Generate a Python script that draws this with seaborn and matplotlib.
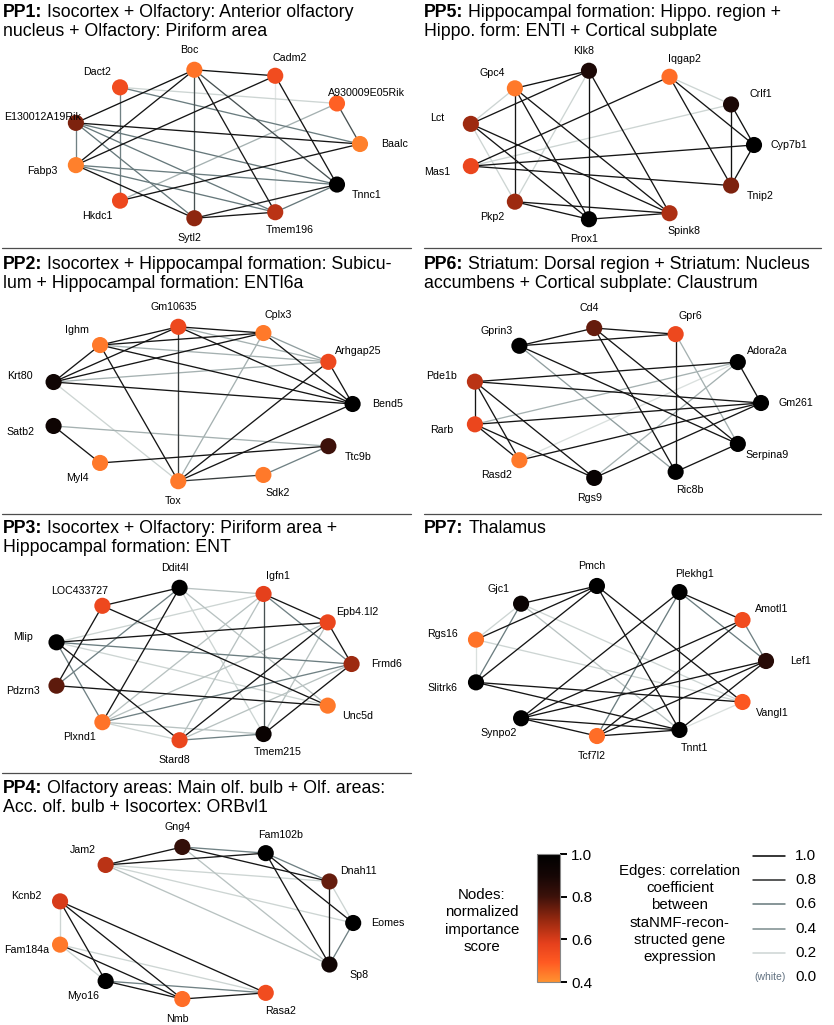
import numpy as np
import pandas as pd
import matplotlib
matplotlib.use("Agg")
import matplotlib.pyplot as plt
import seaborn as sns
from matplotlib.colors import LinearSegmentedColormap, Normalize
from matplotlib.cm import ScalarMappable

# ---------------- data ----------------
# genes listed counter-clockwise, starting from the rightmost node
PP1_GENES = ["Baalc", "A930009E05Rik", "Cadm2", "Boc", "Dact2", "E130012A19Rik",
             "Fabp3", "Hkdc1", "Sytl2", "Tmem196", "Tnnc1"]
PP1_IMPORTANCE = [0.43, 0.48, 0.54, 0.45, 0.54, 0.72, 0.43, 0.55, 0.70, 0.64, 1.0]
PP1_EDGES = [("Boc", "Cadm2", 0.92), ("Boc", "E130012A19Rik", 0.92), ("Boc", "Fabp3", 0.9),
             ("Cadm2", "Fabp3", 0.9), ("Boc", "Sytl2", 0.7), ("Boc", "Tmem196", 0.88),
             ("Boc", "Tnnc1", 0.7), ("Cadm2", "Tnnc1", 0.9), ("Cadm2", "Tmem196", 0.12),
             ("Dact2", "Hkdc1", 0.5), ("Dact2", "A930009E05Rik", 0.2), ("Dact2", "Baalc", 0.55),
             ("A930009E05Rik", "Baalc", 0.7), ("A930009E05Rik", "Hkdc1", 0.3),
             ("Baalc", "Hkdc1", 0.9), ("E130012A19Rik", "Baalc", 0.9),
             ("E130012A19Rik", "Fabp3", 0.5), ("E130012A19Rik", "Tnnc1", 0.6),
             ("E130012A19Rik", "Tmem196", 0.6), ("E130012A19Rik", "Sytl2", 0.6),
             ("Fabp3", "Tnnc1", 0.55), ("Fabp3", "Tmem196", 0.6), ("Fabp3", "Sytl2", 0.9),
             ("Sytl2", "Tnnc1", 0.85), ("Sytl2", "Tmem196", 0.9), ("Tmem196", "Tnnc1", 0.6)]

PP2_GENES = ["Bend5", "Arhgap25", "Cplx3", "Gm10635", "Ighm", "Krt80",
             "Satb2", "Myl4", "Tox", "Sdk2", "Ttc9b"]
PP2_IMPORTANCE = [1.0, 0.55, 0.44, 0.55, 0.44, 0.92, 0.93, 0.44, 0.44, 0.44, 0.80]
PP2_EDGES = [("Ighm", "Gm10635", 0.9), ("Ighm", "Cplx3", 0.9), ("Ighm", "Arhgap25", 0.3),
             ("Ighm", "Bend5", 0.9), ("Ighm", "Krt80", 0.9), ("Ighm", "Tox", 0.9),
             ("Krt80", "Gm10635", 0.9), ("Krt80", "Cplx3", 0.9), ("Krt80", "Arhgap25", 0.3),
             ("Krt80", "Bend5", 0.9), ("Krt80", "Tox", 0.2), ("Gm10635", "Cplx3", 0.9),
             ("Gm10635", "Arhgap25", 0.3), ("Gm10635", "Bend5", 0.9), ("Gm10635", "Tox", 0.75),
             ("Cplx3", "Arhgap25", 0.35), ("Cplx3", "Bend5", 0.9), ("Cplx3", "Tox", 0.3),
             ("Arhgap25", "Bend5", 0.9), ("Arhgap25", "Tox", 0.9), ("Bend5", "Tox", 0.9),
             ("Satb2", "Myl4", 0.9), ("Satb2", "Ttc9b", 0.3), ("Myl4", "Ttc9b", 0.9),
             ("Tox", "Sdk2", 0.75), ("Sdk2", "Ttc9b", 0.5)]

PP3_GENES = ["Frmd6", "Epb4.1l2", "Igfn1", "Ddit4l", "LOC433727", "Mlip",
             "Pdzrn3", "Plxnd1", "Stard8", "Tmem215", "Unc5d"]
PP3_IMPORTANCE = [0.68, 0.56, 0.58, 1.0, 0.55, 1.0, 0.76, 0.45, 0.56, 0.95, 0.44]
PP3_EDGES = [("LOC433727", "Ddit4l", 0.9), ("LOC433727", "Pdzrn3", 0.9),
             ("LOC433727", "Unc5d", 0.9), ("Ddit4l", "Plxnd1", 0.9), ("Ddit4l", "Pdzrn3", 0.5),
             ("Ddit4l", "Igfn1", 0.25), ("Ddit4l", "Unc5d", 0.25), ("Ddit4l", "Tmem215", 0.2),
             ("Igfn1", "Tmem215", 0.7), ("Igfn1", "Epb4.1l2", 0.9), ("Igfn1", "Frmd6", 0.5),
             ("Igfn1", "Plxnd1", 0.25), ("Igfn1", "Stard8", 0.25), ("Igfn1", "Mlip", 0.2),
             ("Epb4.1l2", "Frmd6", 0.9), ("Epb4.1l2", "Mlip", 0.9), ("Epb4.1l2", "Stard8", 0.9),
             ("Epb4.1l2", "Plxnd1", 0.25), ("Epb4.1l2", "Tmem215", 0.25),
             ("Mlip", "Frmd6", 0.55), ("Mlip", "Plxnd1", 0.5), ("Mlip", "Stard8", 0.9),
             ("Mlip", "Unc5d", 0.2), ("Pdzrn3", "Unc5d", 0.9), ("Plxnd1", "Stard8", 0.2),
             ("Plxnd1", "Tmem215", 0.25), ("Plxnd1", "Frmd6", 0.5), ("Stard8", "Tmem215", 0.5),
             ("Stard8", "Frmd6", 0.25), ("Tmem215", "Frmd6", 0.9)]

PP4_GENES = ["Eomes", "Dnah11", "Fam102b", "Gng4", "Jam2", "Kcnb2",
             "Fam184a", "Myo16", "Nmb", "Rasa2", "Sp8"]
PP4_IMPORTANCE = [1.0, 0.75, 1.0, 0.82, 0.64, 0.60, 0.44, 1.0, 0.46, 0.54, 0.92]
PP4_EDGES = [("Jam2", "Gng4", 0.9), ("Jam2", "Fam102b", 0.9), ("Gng4", "Fam102b", 0.5),
             ("Gng4", "Dnah11", 0.9), ("Fam102b", "Dnah11", 0.5), ("Jam2", "Dnah11", 0.2),
             ("Jam2", "Eomes", 0.2), ("Jam2", "Sp8", 0.25), ("Gng4", "Sp8", 0.25),
             ("Fam102b", "Eomes", 0.9), ("Fam102b", "Sp8", 0.9), ("Dnah11", "Sp8", 0.9),
             ("Dnah11", "Eomes", 0.2), ("Eomes", "Sp8", 0.5), ("Kcnb2", "Fam184a", 0.2),
             ("Kcnb2", "Myo16", 0.9), ("Kcnb2", "Nmb", 0.9), ("Kcnb2", "Rasa2", 0.9),
             ("Fam184a", "Nmb", 0.9), ("Fam184a", "Rasa2", 0.2), ("Fam184a", "Myo16", 0.2),
             ("Myo16", "Nmb", 0.9), ("Myo16", "Rasa2", 0.5), ("Nmb", "Rasa2", 0.9)]

PP5_GENES = ["Cyp7b1", "Crlf1", "Iqgap2", "Klk8", "Gpc4", "Lct",
             "Mas1", "Pkp2", "Prox1", "Spink8", "Tnip2"]
PP5_IMPORTANCE = [1.0, 0.88, 0.46, 0.88, 0.44, 0.68, 0.56, 0.68, 1.0, 0.66, 0.72]
PP5_EDGES = [("Gpc4", "Klk8", 0.92), ("Lct", "Klk8", 0.9), ("Gpc4", "Pkp2", 0.9),
             ("Gpc4", "Prox1", 0.9), ("Gpc4", "Spink8", 0.9), ("Gpc4", "Lct", 0.2),
             ("Klk8", "Prox1", 0.92), ("Klk8", "Spink8", 0.9), ("Klk8", "Pkp2", 0.2),
             ("Lct", "Prox1", 0.9), ("Lct", "Spink8", 0.9), ("Lct", "Pkp2", 0.2),
             ("Mas1", "Iqgap2", 0.9), ("Mas1", "Crlf1", 0.2), ("Mas1", "Cyp7b1", 0.9),
             ("Mas1", "Tnip2", 0.9), ("Pkp2", "Prox1", 0.9), ("Pkp2", "Spink8", 0.9),
             ("Prox1", "Spink8", 0.9), ("Iqgap2", "Crlf1", 0.2), ("Iqgap2", "Cyp7b1", 0.9),
             ("Iqgap2", "Tnip2", 0.9), ("Crlf1", "Cyp7b1", 0.92), ("Crlf1", "Tnip2", 0.92),
             ("Cyp7b1", "Tnip2", 0.92)]

PP6_GENES = ["Gm261", "Adora2a", "Gpr6", "Cd4", "Gprin3", "Pde1b",
             "Rarb", "Rasd2", "Rgs9", "Ric8b", "Serpina9"]
PP6_IMPORTANCE = [1.0, 1.0, 0.55, 0.75, 1.0, 0.64, 0.56, 0.44, 0.96, 1.0, 1.0]
PP6_EDGES = [("Gprin3", "Cd4", 0.9), ("Gprin3", "Gpr6", 0.9), ("Cd4", "Gpr6", 0.9),
             ("Gprin3", "Ric8b", 0.35), ("Gprin3", "Serpina9", 0.9), ("Cd4", "Ric8b", 0.9),
             ("Cd4", "Serpina9", 0.9), ("Gpr6", "Ric8b", 0.9), ("Gpr6", "Serpina9", 0.3),
             ("Adora2a", "Pde1b", 0.9), ("Adora2a", "Gm261", 0.9), ("Adora2a", "Rarb", 0.3),
             ("Adora2a", "Rgs9", 0.3), ("Adora2a", "Rasd2", 0.15), ("Pde1b", "Gm261", 0.9),
             ("Pde1b", "Rarb", 0.9), ("Pde1b", "Rasd2", 0.9), ("Pde1b", "Rgs9", 0.9),
             ("Rarb", "Gm261", 0.9), ("Rarb", "Rasd2", 0.9), ("Rarb", "Rgs9", 0.9),
             ("Rasd2", "Gm261", 0.9), ("Rgs9", "Gm261", 0.9), ("Ric8b", "Serpina9", 0.9)]

PP7_GENES = ["Lef1", "Amotl1", "Plekhg1", "Pmch", "Gjc1", "Rgs16",
             "Slitrk6", "Synpo2", "Tcf7l2", "Tnnt1", "Vangl1"]
PP7_IMPORTANCE = [0.85, 0.54, 1.0, 1.0, 0.95, 0.45, 1.0, 1.0, 0.46, 1.0, 0.50]
PP7_EDGES = [("Gjc1", "Pmch", 0.9), ("Rgs16", "Pmch", 0.9), ("Slitrk6", "Pmch", 0.9),
             ("Gjc1", "Rgs16", 0.2), ("Gjc1", "Slitrk6", 0.55), ("Gjc1", "Vangl1", 0.2),
             ("Gjc1", "Tnnt1", 0.25), ("Rgs16", "Slitrk6", 0.15), ("Rgs16", "Vangl1", 0.2),
             ("Slitrk6", "Vangl1", 0.9), ("Slitrk6", "Tnnt1", 0.9), ("Pmch", "Tnnt1", 0.9),
             ("Pmch", "Vangl1", 0.9), ("Plekhg1", "Synpo2", 0.9), ("Plekhg1", "Tcf7l2", 0.55),
             ("Plekhg1", "Tnnt1", 0.9), ("Plekhg1", "Amotl1", 0.9), ("Plekhg1", "Lef1", 0.55),
             ("Amotl1", "Synpo2", 0.9), ("Amotl1", "Tcf7l2", 0.9), ("Amotl1", "Lef1", 0.5),
             ("Lef1", "Synpo2", 0.9), ("Lef1", "Tcf7l2", 0.9), ("Lef1", "Tnnt1", 0.9),
             ("Synpo2", "Tcf7l2", 0.9), ("Synpo2", "Tnnt1", 0.9), ("Tcf7l2", "Tnnt1", 0.9),
             ("Tnnt1", "Vangl1", 0.15)]

PANELS = {
    "PP1": (PP1_GENES, PP1_IMPORTANCE, PP1_EDGES),
    "PP2": (PP2_GENES, PP2_IMPORTANCE, PP2_EDGES),
    "PP3": (PP3_GENES, PP3_IMPORTANCE, PP3_EDGES),
    "PP4": (PP4_GENES, PP4_IMPORTANCE, PP4_EDGES),
    "PP5": (PP5_GENES, PP5_IMPORTANCE, PP5_EDGES),
    "PP6": (PP6_GENES, PP6_IMPORTANCE, PP6_EDGES),
    "PP7": (PP7_GENES, PP7_IMPORTANCE, PP7_EDGES),
}
TITLES = {
    "PP1": ["Isocortex + Olfactory: Anterior olfactory", "nucleus + Olfactory: Piriform area"],
    "PP2": ["Isocortex + Hippocampal formation: Subicu-", "lum + Hippocampal formation: ENTl6a"],
    "PP3": ["Isocortex + Olfactory: Piriform area +", "Hippocampal formation: ENT"],
    "PP4": ["Olfactory areas: Main olf. bulb + Olf. areas:", "Acc. olf. bulb + Isocortex: ORBvl1"],
    "PP5": ["Hippocampal formation: Hippo. region +", "Hippo. form: ENTl + Cortical subplate"],
    "PP6": ["Striatum: Dorsal region + Striatum: Nucleus", "accumbens + Cortical subplate: Claustrum"],
    "PP7": ["Thalamus"],
}
CBAR_TICKS = [0.4, 0.6, 0.8, 1.0]
EDGE_LEGEND_VALUES = [1.0, 0.8, 0.6, 0.4, 0.2, 0.0]

# ---------------- layout (pixels) ----------------
W, H = 834, 1025
LAYOUT = {
    "PP1": dict(cx=215, cy=144, rx=145, ry=75, tx=3, ty=17),
    "PP5": dict(cx=609.5, cy=145, rx=144.5, ry=75, tx=424, ty=17),
    "PP2": dict(cx=200, cy=404, rx=152.6, ry=78, tx=3, ty=269),
    "PP6": dict(cx=615, cy=403, rx=146, ry=75.7, tx=424, ty=269),
    "PP3": dict(cx=201, cy=664, rx=150.6, ry=77, tx=3, ty=533),
    "PP7": dict(cx=618, cy=661, rx=148, ry=75.8, tx=424, ty=533),
    "PP4": dict(cx=203.6, cy=923, rx=149.6, ry=76.8, tx=3, ty=793),
}
SEPARATORS = [(2, 411, 248), (2, 411, 514), (2, 411, 773), (424, 821, 248), (424, 821, 514)]

node_cmap = LinearSegmentedColormap.from_list(
    "importance", [(0.0, "#ff9130"), (0.15, "#ff5a22"), (0.3, "#e5401c"),
                   (0.47, "#9c2a10"), (0.67, "#3b110a"), (0.83, "#150605"), (1.0, "#000000")])
edge_cmap = LinearSegmentedColormap.from_list(
    "corr", [(0.0, "#ffffff"), (0.2, "#cdd5d3"), (0.4, "#7b8b8d"), (0.6, "#66787b"),
             (0.8, "#2a2b2b"), (1.0, "#000000")])

sns.set_style("white")
plt.rcParams["font.family"] = ["Liberation Sans", "DejaVu Sans"]
plt.rcParams["text.color"] = "black"
plt.rcParams["ytick.color"] = "black"
plt.rcParams["ytick.labelcolor"] = "black"

fig = plt.figure(figsize=(W / 100, H / 100), dpi=100)
ax = fig.add_axes([0, 0, 1, 1])
ax.set_xlim(0, W)
ax.set_ylim(H, 0)
ax.set_autoscale_on(False)
renderer = fig.canvas.get_renderer()

for pid, (genes, imp, edges) in PANELS.items():
    lay = LAYOUT[pid]
    ang = np.arange(len(genes)) * 2 * np.pi / len(genes)
    df = pd.DataFrame({
        "gene": genes,
        "importance": imp,
        "x": lay["cx"] + lay["rx"] * np.cos(ang),
        "y": lay["cy"] - lay["ry"] * np.sin(ang),
        "ang": ang,
    }).set_index("gene", drop=False)

    # edges: light first, dark on top
    for a, b, c in sorted(edges, key=lambda e: e[2]):
        ax.plot([df.loc[a, "x"], df.loc[b, "x"]], [df.loc[a, "y"], df.loc[b, "y"]],
                color=edge_cmap(c), lw=0.95, zorder=1, solid_capstyle="butt")

    sns.scatterplot(data=df, x="x", y="y", hue="importance", palette=node_cmap,
                    hue_norm=(0.4, 1.0), s=135, linewidth=0, legend=False,
                    ax=ax, zorder=3)

    for _, row in df.iterrows():
        ax.text(row["x"] + 35 * np.cos(row["ang"]), row["y"] - 20 * np.sin(row["ang"]),
                row["gene"], ha="center", va="center", fontsize=7.7, zorder=4)

ax.set_xlim(0, W)
ax.set_ylim(H, 0)

# titles: bold id + regular text
for pid in PANELS:
    lay = LAYOUT[pid]
    t = ax.text(lay["tx"], lay["ty"], pid + ":", fontsize=12.8, weight="bold",
                va="baseline", ha="left")
    bb = t.get_window_extent(renderer=renderer)
    x_rest = ax.transData.inverted().transform((bb.x1, bb.y0))[0] + 5
    lines = TITLES[pid]
    ax.text(x_rest, lay["ty"], lines[0], fontsize=12.8, va="baseline", ha="left")
    for i, line in enumerate(lines[1:], start=1):
        ax.text(lay["tx"], lay["ty"] + 19.5 * i, line, fontsize=12.8,
                va="baseline", ha="left")

for x0, x1, y in SEPARATORS:
    ax.plot([x0, x1], [y, y], color="#4d4d4d", lw=0.9)

# node legend
ax.text(482, 921, "Nodes:\nnormalized\nimportance\nscore", ha="center", va="center",
        fontsize=10.8, linespacing=1.3)
cax = fig.add_axes([537 / W, 1 - 982 / H, 23 / W, 128 / H])
sm = ScalarMappable(norm=Normalize(0.4, 1.0), cmap=node_cmap)
cb = fig.colorbar(sm, cax=cax, ticks=CBAR_TICKS)
cb.ax.set_yticklabels([f"{v:.1f}" for v in CBAR_TICKS])
cb.ax.tick_params(labelsize=11, length=5, width=1.4, pad=3, direction="out",
                  colors="black")
cb.outline.set_edgecolor("#888888")
cb.outline.set_linewidth(0.8)

# edge legend
ax.text(680, 914, "Edges: correlation\ncoefficient\nbetween\nstaNMF-recon-\nstructed gene\nexpression",
        ha="center", va="center", fontsize=10.8, linespacing=1.3)
for i, v in enumerate(EDGE_LEGEND_VALUES):
    y = 856 + i * 24.2
    if v > 0:
        ax.plot([753, 785], [y, y], color=edge_cmap(v), lw=1.1)
    else:
        ax.text(786, y, "(white)", ha="right", va="center", fontsize=7.5, color="#607080")
    ax.text(795, y, f"{v:.1f}", ha="left", va="center", fontsize=11)

ax.axis("off")

fig.savefig("out.png", dpi=100)
